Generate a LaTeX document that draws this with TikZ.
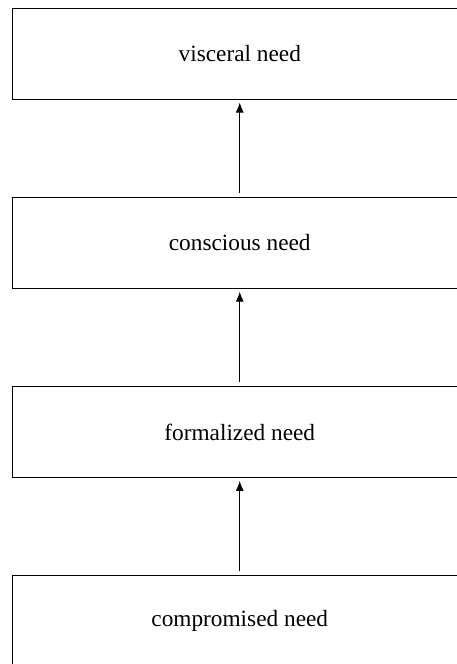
\documentclass[tikz,border=0pt]{standalone}
\usepackage{fontspec}
\setmainfont{Liberation Serif}
\usetikzlibrary{arrows.meta}
\begin{document}
\begin{tikzpicture}[x=1pt,y=1pt,
  needbox/.style={draw=black, line width=1pt, minimum width=454.5pt, minimum height=91.5pt, inner sep=0pt, anchor=north west,
    font=\fontsize{23.3}{28}\selectfont},
  uparrow/.style={draw=black, line width=1pt, -{Latex[length=10pt,width=8pt]}, shorten >=2.5pt, shorten <=4pt}]
\useasboundingbox (0,0) rectangle (456,-664);
\node[needbox] (b1) at (12,-7.5) {visceral need};
\node[needbox] (b2) at (12,-196.7) {conscious need};
\node[needbox] (b3) at (12,-385.9) {formalized need};
\node[needbox] (b4) at (12,-575.1) {compromised need};
\draw[uparrow] (b2.north) -- (b1.south);
\draw[uparrow] (b3.north) -- (b2.south);
\draw[uparrow] (b4.north) -- (b3.south);
\end{tikzpicture}
\end{document}
